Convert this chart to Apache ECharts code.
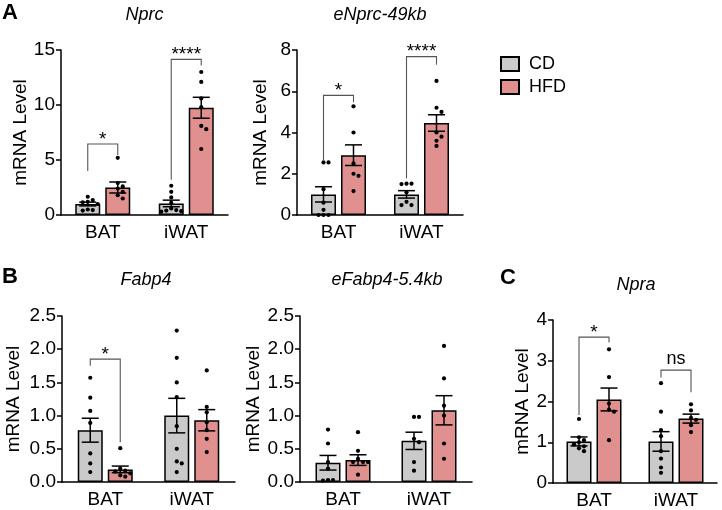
<!DOCTYPE html>
<html><head><meta charset="utf-8">
<script src="https://cdn.jsdelivr.net/npm/echarts@6/dist/echarts.min.js"></script>
<style>html,body{margin:0;padding:0;background:#fff}#c{width:722px;height:510px}</style>
</head><body><div id="c"></div>
<script>
const categories = ['BAT', 'iWAT'];
const groupNames = ['CD', 'HFD'];

// Nprc
const nprcCD = [1.0, 1.05];
const nprcCDErr = [0.17, 0.3];
const nprcHFD = [2.5, 9.75];
const nprcHFDErr = [0.5, 0.95];
const nprcCDPts = [[1.66, 1.36, 1.2, 1.15, 1.0, 0.5, 0.45, 0.4], [2.66, 2.11, 1.6, 1.1, 0.6, 0.45, 0.4, 0.35, 0.3]];
const nprcHFDPts = [[5.2, 2.9, 2.6, 2.4, 2.1, 1.8, 1.5], [13.0, 12.1, 10.6, 9.8, 8.1, 7.8, 6.0]];
const nprcSig = [[0, 6.45, 4.0, 5.45], [1, 14.15, 3.2, 13.6]];
const nprcSigText = ['*', '****'];

// eNprc-49kb
const enprcCD = [1.0, 1.0];
const enprcCDErr = [0.37, 0.18];
const enprcHFD = [2.9, 4.46];
const enprcHFDErr = [0.5, 0.4];
const enprcCDPts = [[2.55, 2.55, 1.25, 0.6, 0.25, 0.0, 0.0, 0.0], [1.52, 1.52, 1.5, 1.1, 0.64, 0.48, 0.48]];
const enprcHFDPts = [[5.27, 4.0, 2.5, 2.0, 1.9, 1.16], [6.5, 5.2, 5.0, 4.0, 3.8, 3.6, 3.35]];
const enprcSig = [[0, 5.8, 2.66, 5.47], [1, 7.68, 1.77, 7.28]];
const enprcSigText = ['*', '****'];

// Fabp4
const fabp4CD = [0.78, 1.0];
const fabp4CDErr = [0.18, 0.26];
const fabp4HFD = [0.19, 0.93];
const fabp4HFDErr = [0.05, 0.16];
const fabp4CDPts = [[1.57, 1.27, 1.07, 0.89, 0.43, 0.28, 0.15], [2.28, 1.87, 1.5, 1.28, 0.84, 0.5, 0.31, 0.28, 0.15]];
const fabp4HFDPts = [[0.51, 0.2, 0.17, 0.16, 0.13, 0.1, 0.08], [1.68, 1.13, 1.05, 0.9, 0.78, 0.65, 0.45]];
const fabp4Sig = [[0, 1.85, 1.75, 0.6]];
const fabp4SigText = ['*'];

// eFabp4-5.4kb
const efabp4CD = [0.29, 0.62];
const efabp4CDErr = [0.11, 0.13];
const efabp4HFD = [0.33, 1.08];
const efabp4HFDErr = [0.08, 0.22];
const efabp4CDPts = [[0.79, 0.58, 0.3, 0.2, 0.03, 0.03, 0.02], [0.98, 0.98, 0.65, 0.6, 0.3, 0.17]];
const efabp4HFDPts = [[0.75, 0.47, 0.35, 0.3, 0.3, 0.3, 0.11], [2.05, 1.56, 1.15, 1.0, 0.58, 0.35]];
const efabp4Sig = [];
const efabp4SigText = [];

// Npra
const npraCD = [1.02, 1.02];
const npraCDErr = [0.11, 0.24];
const npraHFD = [2.05, 1.58];
const npraHFDErr = [0.28, 0.11];
const npraCDPts = [[1.57, 1.12, 1.05, 1.0, 0.95, 0.9, 0.85, 0.78], [2.45, 1.75, 1.3, 1.15, 0.78, 0.6, 0.38, 0.25]];
const npraHFDPts = [[3.28, 2.6, 1.95, 1.8, 1.75, 1.05], [1.93, 1.78, 1.6, 1.55, 1.42, 1.25]];
const npraSig = [[0, 3.58, 1.67, 3.45], [1, 2.77, 2.59, 2.23]];
const npraSigText = ['*', 'ns'];

// y axis ticks
const yMax = [15, 8, 2.5, 2.5, 4];
const yStep = [5, 2, 0.5, 0.5, 1];
const yDecimals = [0, 0, 1, 1, 0];

const titles = ['Nprc', 'eNprc-49kb', 'Fabp4', 'eFabp4-5.4kb', 'Npra'];

const panels = [
  {cd: nprcCD, cdE: nprcCDErr, hfd: nprcHFD, hfdE: nprcHFDErr, cdP: nprcCDPts, hfdP: nprcHFDPts, sig: nprcSig, sigT: nprcSigText,
   grid: {left: 61, right: 494, top: 50, bottom: 295}, nameGap: 30},
  {cd: enprcCD, cdE: enprcCDErr, hfd: enprcHFD, hfdE: enprcHFDErr, cdP: enprcCDPts, hfdP: enprcHFDPts, sig: enprcSig, sigT: enprcSigText,
   grid: {left: 297, right: 259, top: 50, bottom: 295}, nameGap: 27},
  {cd: fabp4CD, cdE: fabp4CDErr, hfd: fabp4HFD, hfdE: fabp4HFDErr, cdP: fabp4CDPts, hfdP: fabp4HFDPts, sig: fabp4Sig, sigT: fabp4SigText,
   grid: {left: 62, right: 487, top: 316, bottom: 28}, nameGap: 39},
  {cd: efabp4CD, cdE: efabp4CDErr, hfd: efabp4HFD, hfdE: efabp4HFDErr, cdP: efabp4CDPts, hfdP: efabp4HFDPts, sig: efabp4Sig, sigT: efabp4SigText,
   grid: {left: 300, right: 250, top: 316, bottom: 28}, nameGap: 29},
  {cd: npraCD, cdE: npraCDErr, hfd: npraHFD, hfdE: npraHFDErr, cdP: npraCDPts, hfdP: npraHFDPts, sig: npraSig, sigT: npraSigText,
   grid: {left: 553, right: 5, top: 320, bottom: 25}, nameGap: 21}
];

const FONT = 'Liberation Sans, Arial, Helvetica, sans-serif';
const GRAY = '#cacaca';
const PINK = '#e0908f';
const BAR_W = 25;
const OFF = 15; // half of bar width + gap
const DOT_R = 2.1;
const DOT_D = 5;
const FS = 19;

function swarm(cx, ys) {
  const order = ys.map((y, i) => i).sort((a, b) => ys[a] - ys[b]);
  const placed = [];
  for (const i of order) {
    const y = ys[i];
    for (let k = 0; k < 20; k++) {
      const step = Math.ceil(k / 2) * (k % 2 ? 1 : -1);
      const x = cx + step * DOT_D;
      let ok = true;
      for (const p of placed) {
        const dx = p[0] - x, dy = p[1] - y;
        if (dx * dx + dy * dy < DOT_D * DOT_D * 0.95) { ok = false; break; }
      }
      if (ok) { placed.push([x, y]); break; }
    }
  }
  return placed;
}

const grids = [], xAxes = [], yAxes = [], series = [];
panels.forEach((p, k) => {
  grids.push(p.grid);
  xAxes.push({
    type: 'category', gridIndex: k, data: categories,
    axisLine: {lineStyle: {color: '#000', width: 1.5}},
    axisTick: {alignWithLabel: true, length: 5, lineStyle: {color: '#000', width: 1.5}},
    axisLabel: {fontSize: FS, color: '#000', fontFamily: FONT, margin: 8}
  });
  yAxes.push({
    type: 'value', gridIndex: k, min: 0, max: yMax[k], interval: yStep[k],
    name: 'mRNA Level', nameLocation: 'middle', nameRotate: 90, nameGap: p.nameGap,
    nameTextStyle: {fontSize: FS, color: '#000', fontFamily: FONT},
    splitLine: {show: false},
    axisLine: {show: true, lineStyle: {color: '#000', width: 1.5}},
    axisTick: {show: true, length: 5, lineStyle: {color: '#000', width: 1.5}},
    axisLabel: {fontSize: FS, color: '#000', fontFamily: FONT, margin: 6,
      formatter: v => v.toFixed(yDecimals[k])}
  });
  series.push({
    type: 'bar', name: groupNames[0], xAxisIndex: k, yAxisIndex: k, data: p.cd,
    barWidth: BAR_W, barGap: '20%', z: 2,
    itemStyle: {color: GRAY, borderColor: '#000', borderWidth: 1.5}
  });
  series.push({
    type: 'bar', name: groupNames[1], xAxisIndex: k, yAxisIndex: k, data: p.hfd,
    barWidth: BAR_W, barGap: '20%', z: 2,
    itemStyle: {color: PINK, borderColor: '#000', borderWidth: 1.5}
  });
  // error bars and dots
  series.push({
    type: 'custom', xAxisIndex: k, yAxisIndex: k, z: 5, silent: true,
    data: categories.map((c, i) => [i, 0]),
    encode: {x: 0, y: 1},
    renderItem: function (params, api) {
      const i = params.dataIndex;
      const children = [];
      const groups = [[p.cd, p.cdE, p.cdP, -OFF], [p.hfd, p.hfdE, p.hfdP, OFF]];
      groups.forEach(g => {
        const mean = g[0][i], err = g[1][i], pts = g[2][i];
        const cx = api.coord([i, mean])[0] + g[3];
        const yT = api.coord([i, mean + err])[1];
        const yB = api.coord([i, Math.max(0, mean - err)])[1];
        const st = {stroke: '#000', lineWidth: 1.5};
        children.push({type: 'line', shape: {x1: cx, y1: yB, x2: cx, y2: yT}, style: st});
        children.push({type: 'line', shape: {x1: cx - 8.5, y1: yT, x2: cx + 8.5, y2: yT}, style: st});
        children.push({type: 'line', shape: {x1: cx - 8.5, y1: yB, x2: cx + 8.5, y2: yB}, style: st});
        const ys = pts.map(v => api.coord([i, v])[1]);
        swarm(cx, ys).forEach(q => {
          children.push({type: 'circle', shape: {cx: q[0], cy: q[1], r: DOT_R}, style: {fill: '#000'}});
        });
      });
      return {type: 'group', children: children};
    }
  });
  if (p.sig.length) {
    series.push({
      type: 'custom', xAxisIndex: k, yAxisIndex: k, z: 6, silent: true,
      data: p.sig, encode: {x: 0, y: 1},
      renderItem: function (params, api) {
        const cat = api.value(0);
        const c = api.coord([cat, api.value(1)]);
        const yL = api.coord([cat, api.value(2)])[1];
        const yR = api.coord([cat, api.value(3)])[1];
        const xL = c[0] - OFF, xR = c[0] + OFF;
        const txt = p.sigT[params.dataIndex];
        return {type: 'group', children: [
          {type: 'polyline', shape: {points: [[xL, yL], [xL, c[1]], [xR, c[1]], [xR, yR]]},
           style: {stroke: '#555', lineWidth: 1.1, fill: null}},
          {type: 'text', x: (xL + xR) / 2, y: txt === 'ns' ? c[1] - 2 : c[1] + 5,
           style: {text: txt, fill: '#000', font: (txt === 'ns' ? '18px ' : '19px ') + FONT,
                   textAlign: 'center', textVerticalAlign: 'bottom'}}
        ]};
      }
    });
  }
});

const titlePos = [[144.5, 15], [380, 15], [146, 280], [387, 280], [636, 285]];
const graphics = titles.map((t, i) => ({
  type: 'text', x: titlePos[i][0], y: titlePos[i][1],
  style: {text: t, font: 'italic 18px ' + FONT, fill: '#000', textAlign: 'center', textVerticalAlign: 'middle'}
}));
const letters = [['A', 10, 13], ['B', 10, 277], ['C', 508, 278]];
letters.forEach(l => graphics.push({
  type: 'text', x: l[1], y: l[2],
  style: {text: l[0], font: 'bold 22px ' + FONT, fill: '#000', textAlign: 'center', textVerticalAlign: 'middle'}
}));

const chart = echarts.init(document.getElementById('c'), null, {renderer: 'canvas'});
chart.setOption({
  animation: false,
  backgroundColor: '#fff',
  grid: grids,
  xAxis: xAxes,
  yAxis: yAxes,
  legend: {
    data: groupNames, orient: 'vertical', left: 500, top: 55, padding: 0,
    itemWidth: 18, itemHeight: 14, itemGap: 5, icon: 'rect',
    textStyle: {fontSize: 18, color: '#000', fontFamily: FONT, padding: [0, 0, 0, 5]}
  },
  graphic: graphics,
  series: series
});
</script></body></html>
